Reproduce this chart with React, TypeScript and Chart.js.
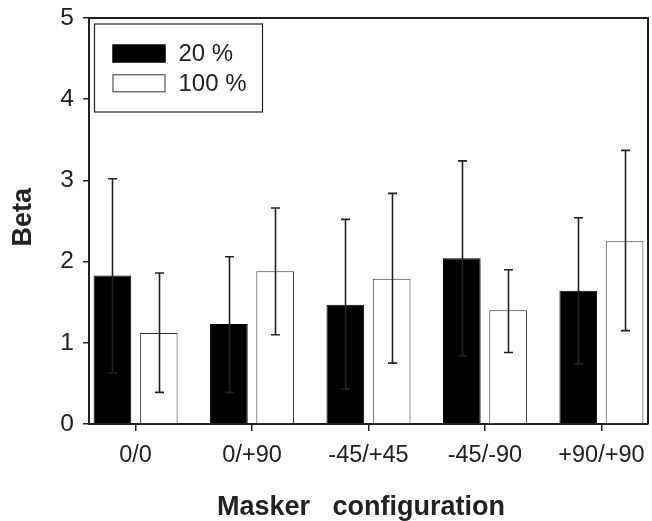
import React, { useEffect, useRef } from 'react';
import { Chart, registerables } from 'chart.js';

Chart.register(...registerables);

const categories = ['0/0', '0/+90', '-45/+45', '-45/-90', '+90/+90'];
const seriesLabels = ['20 %', '100 %'];
const beta20 = [1.83, 1.23, 1.47, 2.04, 1.64];
const beta20Upper = [3.02, 2.06, 2.52, 3.24, 2.54];
const beta20Lower = [0.63, 0.39, 0.43, 0.84, 0.74];
const beta100 = [1.12, 1.88, 1.79, 1.4, 2.25];
const beta100Upper = [1.86, 2.66, 2.84, 1.9, 3.37];
const beta100Lower = [0.39, 1.1, 0.75, 0.88, 1.15];
const yTicks = [0, 1, 2, 3, 4, 5];
const xTitle = 'Masker   configuration  ';
const yTitle = ' Beta';

const FONT = "'Liberation Sans', Arial, Helvetica, sans-serif";
const INK = '#222';

const errorBarPlugin = {
  id: 'errorBars',
  afterDatasetsDraw(chart: any) {
    const { ctx } = chart;
    const yScale = chart.scales.y;
    chart.data.datasets.forEach((ds: any, di: number) => {
      const meta = chart.getDatasetMeta(di);
      meta.data.forEach((bar: any, i: number) => {
        const x = Math.round(bar.x) + 0.5;
        const yTop = yScale.getPixelForValue(ds.errUpper[i]);
        const yBot = yScale.getPixelForValue(ds.errLower[i]);
        ctx.save();
        ctx.strokeStyle = INK;
        ctx.lineWidth = 1.6;
        ctx.beginPath();
        ctx.moveTo(x, yTop);
        ctx.lineTo(x, yBot);
        ctx.moveTo(x - 4.5, yTop);
        ctx.lineTo(x + 4.5, yTop);
        ctx.moveTo(x - 4.5, yBot);
        ctx.lineTo(x + 4.5, yBot);
        ctx.stroke();
        ctx.restore();
      });
    });
  },
};

const framePlugin = {
  id: 'frame',
  afterDraw(chart: any) {
    const { ctx, chartArea } = chart;
    ctx.save();
    ctx.strokeStyle = INK;
    ctx.lineWidth = 2;
    ctx.beginPath();
    ctx.moveTo(chartArea.left, chartArea.top);
    ctx.lineTo(chartArea.right, chartArea.top);
    ctx.lineTo(chartArea.right, chartArea.bottom);
    ctx.stroke();
    ctx.restore();
  },
};

const boxLegendPlugin = {
  id: 'boxLegend',
  afterDraw(chart: any) {
    const { ctx, chartArea } = chart;
    const left = chartArea.left + 5.5;
    const top = chartArea.top + 6;
    const w = 168;
    const h = 88;
    ctx.save();
    ctx.fillStyle = '#fff';
    ctx.fillRect(left, top, w, h);
    ctx.strokeStyle = INK;
    ctx.lineWidth = 1.2;
    ctx.strokeRect(left, top, w, h);
    const rows = [top + 29.5, top + 59.3];
    chart.data.datasets.forEach((ds: any, i: number) => {
      const cy = rows[i];
      ctx.fillStyle = ds.backgroundColor;
      ctx.fillRect(left + 18, cy - 9, 53, 18);
      ctx.strokeStyle = ds.borderColor;
      ctx.lineWidth = 1;
      ctx.strokeRect(left + 18.5, cy - 8.5, 52, 17);
      ctx.fillStyle = INK;
      ctx.font = `24px ${FONT}`;
      ctx.textBaseline = 'middle';
      ctx.textAlign = 'left';
      ctx.fillText(ds.label, left + 84, cy + 1);
    });
    ctx.restore();
  },
};

export default function App() {
  const ref = useRef<HTMLCanvasElement | null>(null);

  useEffect(() => {
    if (!ref.current) return;
    const chart = new Chart(ref.current, {
      type: 'bar',
      data: {
        datasets: [
          {
            label: seriesLabels[0],
            data: beta20.map((v, i) => ({ x: i, y: v })),
            backgroundColor: '#000',
            borderColor: '#000',
            borderWidth: 1,
            errUpper: beta20Upper,
            errLower: beta20Lower,
          } as any,
          {
            label: seriesLabels[1],
            data: beta100.map((v, i) => ({ x: i, y: v })),
            backgroundColor: '#fff',
            borderColor: '#333',
            borderWidth: 1,
            errUpper: beta100Upper,
            errLower: beta100Lower,
          } as any,
        ],
      },
      options: {
        animation: false,
        responsive: false,
        layout: { padding: { left: 0, top: 18, right: 4, bottom: 0 } },
        datasets: { bar: { categoryPercentage: 0.795, barPercentage: 0.814 } },
        plugins: {
          legend: { display: false },
          tooltip: { enabled: false },
          title: { display: false },
        },
        scales: {
          x: {
            type: 'linear',
            min: -0.4,
            max: 4.4,
            offset: false,
            afterBuildTicks: (s: any) => {
              s.ticks = categories.map((_, i) => ({ value: i }));
            },
            afterFit: (s: any) => {
              s.height = 97;
              s.paddingLeft = 0;
              s.paddingRight = 0;
            },
            ticks: {
              callback: (v: any) => categories[Math.round(v)] ?? '',
              font: { family: FONT, size: 23.5 },
              color: INK,
              padding: 10,
              autoSkip: false,
              maxRotation: 0,
            },
            grid: {
              display: true,
              offset: false,
              drawOnChartArea: false,
              drawTicks: true,
              tickLength: 7,
              color: INK,
              lineWidth: 1.5,
            },
            border: { display: true, color: INK, width: 2 },
            title: {
              display: true,
              text: xTitle,
              font: { family: FONT, size: 27, weight: 'bold', lineHeight: 1 },
              color: INK,
              padding: 0,
            },
          } as any,
          y: {
            type: 'linear',
            min: 0,
            max: 5,
            afterBuildTicks: (s: any) => {
              s.ticks = yTicks.map((v) => ({ value: v }));
            },
            afterFit: (s: any) => {
              s.width = 89;
              s.paddingTop = 0;
              s.paddingBottom = 0;
            },
            ticks: {
              font: { family: FONT, size: 24.5 },
              color: INK,
              padding: 9,
            },
            grid: {
              display: true,
              drawOnChartArea: false,
              drawTicks: true,
              tickLength: 6,
              color: INK,
              lineWidth: 1.5,
            },
            border: { display: true, color: INK, width: 2 },
            title: {
              display: true,
              text: yTitle,
              font: { family: FONT, size: 27, weight: 'bold' },
              color: INK,
              padding: { top: 7, bottom: 0 },
            },
          } as any,
        },
      },
      plugins: [errorBarPlugin, framePlugin, boxLegendPlugin],
    } as any);
    return () => chart.destroy();
  }, []);

  return (
    <div style={{ position: 'absolute', left: 0, top: 0, width: 652, height: 521, background: '#fff' }}>
      <canvas ref={ref} width={652} height={521} style={{ display: 'block' }} />
    </div>
  );
}
